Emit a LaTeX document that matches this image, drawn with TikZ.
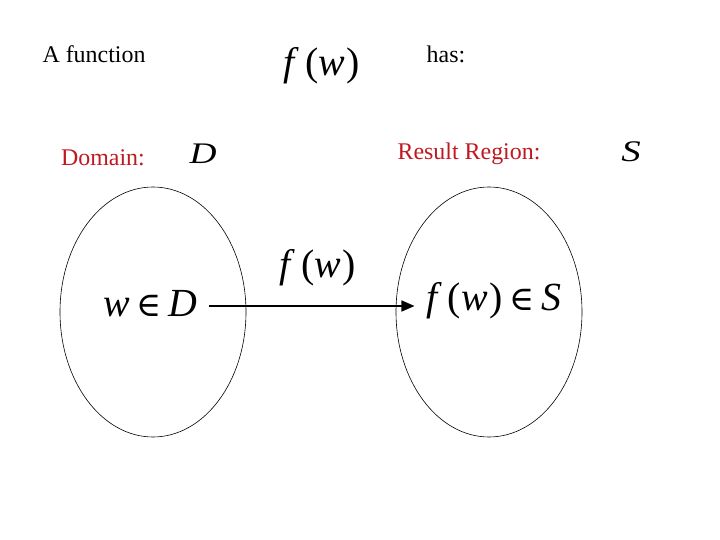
\documentclass[tikz,border=0pt]{standalone}
\usepackage{fontspec}
\setmainfont{Liberation Serif}
\newfontfamily\elemfont{DejaVu Serif}
\usetikzlibrary{arrows.meta, shapes.geometric}
\definecolor{labelred}{RGB}{192,24,32}
\newcommand{\fw}{\textit{f}\hspace{0.14em}(\textit{w}\hspace{0.05em})}
\newcommand{\elem}{\,{\elemfont\fontsize{34}{40}\selectfont ∈}\,}

\begin{document}
\begin{tikzpicture}[
    x=1bp, y=-1bp,
    >={Triangle[length=13bp, width=11bp]},
    txt/.style={font=\fontsize{24}{28}\selectfont, inner sep=0pt, anchor=base},
    redtxt/.style={txt, text=labelred},
    mathtxt/.style={font=\fontsize{40}{46}\selectfont, inner sep=0pt, anchor=base},
    symtxt/.style={font=\fontsize{30}{36}\selectfont\itshape, inner sep=0pt, anchor=base},
    region/.style={ellipse, draw=black, line width=0.6bp, minimum width=186bp, minimum height=250bp, inner sep=0pt},
    mapline/.style={draw=black, line width=1.6bp, ->}
]
    \useasboundingbox (0,0) rectangle (720,540);

    % Titel
    \node [txt] (intro) at (94,63) {A function};
    \node [mathtxt] (fwtop) at (322,76) {\fw};
    \node [txt] (has) at (446,63) {has:};

    % Bezeichnungen
    \node [redtxt] (domlbl) at (103,166) {Domain:};
    \node [symtxt] (dsym) at (203,164) {\scalebox{1.25}[1]{D}};
    \node [redtxt] (reslbl) at (469,160) {Result Region:};
    \node [symtxt] (ssym) at (631,162) {\scalebox{1.3}[1]{S}};

    % Mengen
    \node [region] (domain) at (153,312) {};
    \node [region] (result) at (489,312) {};

    \node [mathtxt] (wD) at (150,316) {\textit{w}\elem\textit{D}};
    \node [mathtxt] (fS) at (494,310) {\fw\elem\textit{S}};
    \node [mathtxt] (fwmid) at (318,278) {\fw};

    % Abbildung
    \draw [mapline] ([shift={(12bp,10bp)}]wD.base east) -- ([shift={(-12bp,4bp)}]fS.base west);

\end{tikzpicture}
\end{document}
